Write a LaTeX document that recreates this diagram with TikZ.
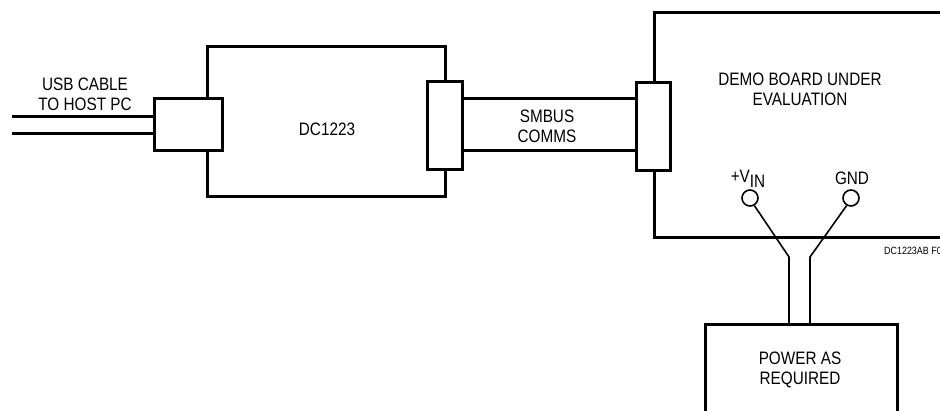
\documentclass[tikz,border=0pt]{standalone}
\usepackage{fontspec}
\setmainfont{Liberation Sans}[FakeStretch=0.85]
\begin{document}
\begin{tikzpicture}[x=1pt,y=-1pt,
  box/.style={draw, line width=3pt, inner sep=0pt, fill=white},
  wire/.style={line width=3pt},
  thinwire/.style={line width=1.6pt},
  lbl/.style={font=\fontsize{18}{20}\selectfont, align=center, inner sep=0pt},
  term/.style={circle, draw, line width=1.6pt, minimum size=16pt, inner sep=0pt, fill=white}]
\useasboundingbox (0,0) rectangle (940,411);
\begin{scope}
\clip (0,0) rectangle (940,411);
% main boxes
\node[box, minimum width=238pt, minimum height=150pt] (dc) at (326,122) {};
\node[box, minimum width=306pt, minimum height=225pt] (demo) at (807,125.5) {};
\node[box, minimum width=192pt, minimum height=115pt] (power) at (801,382.5) {};
% connectors
\node[box, minimum width=68pt, minimum height=52pt] (usb) at (188,125) {};
\node[box, minimum width=35pt, minimum height=88pt] (cL) at (444.5,126) {};
\node[box, minimum width=34pt, minimum height=88pt] (cR) at (653,127) {};
% usb cable
\coordinate (ua) at (12,117);
\coordinate (ub) at (12,134);
\draw[wire] (ua) -- (ua -| usb.west);
\draw[wire] (ub) -- (ub -| usb.west);
% smbus
\coordinate (sa) at (500,99);
\coordinate (sb) at (500,151);
\draw[wire] (sa -| cL.east) -- (sa -| cR.west);
\draw[wire] (sb -| cL.east) -- (sb -| cR.west);
% terminals
\node[term] (vin) at (750,198) {};
\node[term] (gnd) at (851,198) {};
\coordinate (va) at (789,257);
\coordinate (ga) at (810,257);
\draw[thinwire] (vin.-60) -- (va) -- (va |- power.north);
\draw[thinwire] (gnd.-120) -- (ga) -- (ga |- power.north);
% labels
\node[lbl] (tusb) at (85,94) {USB CABLE\\TO HOST PC};
\node[lbl] (tdc) at (327,129) {DC1223};
\node[lbl] (tsm) at (547,126) {SMBUS\\COMMS};
\node[lbl] (tdemo) at (800,89) {DEMO BOARD UNDER\\EVALUATION};
\node[lbl] (tpow) at (800,370) {POWER AS\\REQUIRED};
\node[lbl, anchor=base] (tvin) at (748,183) {+V\raisebox{-5pt}{IN}};
\node[lbl, anchor=base] (tgnd) at (852,184.5) {GND};
\node[font=\fontsize{10.5}{12}\selectfont, anchor=base west, inner sep=0pt] (tfig) at (884,255) {DC1223AB F01};
\end{scope}
\end{tikzpicture}
\end{document}
